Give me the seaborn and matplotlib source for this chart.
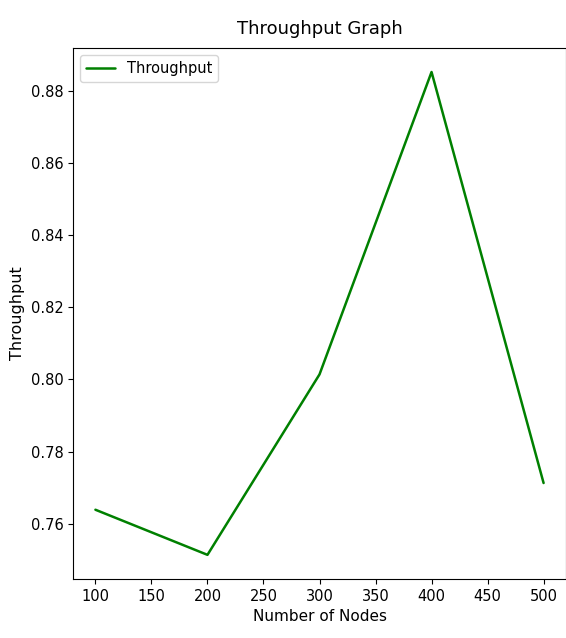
import pandas as pd
import matplotlib.pyplot as plt
import seaborn as sns

# 노드 수에 따른 throughput 값
nodes = [100, 200, 300, 400, 500]
throughput = [0.7639, 0.7514, 0.8014, 0.8852, 0.7713]

sns.set_style("ticks")
plt.rcParams['font.family'] = ['DejaVu Sans']
for k in ['text.color', 'axes.labelcolor', 'xtick.color', 'ytick.color', 'axes.edgecolor']:
    plt.rcParams[k] = 'black'

df = pd.DataFrame({"Number of Nodes": nodes, "Throughput": throughput})

fig = plt.figure(figsize=(5.66, 6.38), dpi=100)
ax = fig.add_axes([0.129, 0.0925, 0.871, 0.8325])

sns.lineplot(data=df, x="Number of Nodes", y="Throughput", color="green",
             linewidth=1.8, label="Throughput", ax=ax)

ax.set_xticks(range(100, 501, 50))
ax.set_yticks([0.76, 0.78, 0.80, 0.82, 0.84, 0.86, 0.88])
ax.tick_params(labelsize=10.5)
ax.set_title("Throughput Graph", fontsize=13, pad=10)
ax.set_xlabel("Number of Nodes", fontsize=11)
ax.set_ylabel("Throughput", fontsize=11.5)
ax.yaxis.set_label_coords(-0.097, 0.5)
ax.legend(loc="upper left", fontsize=10.5)

plt.savefig("out.png", dpi=100)
plt.close()
